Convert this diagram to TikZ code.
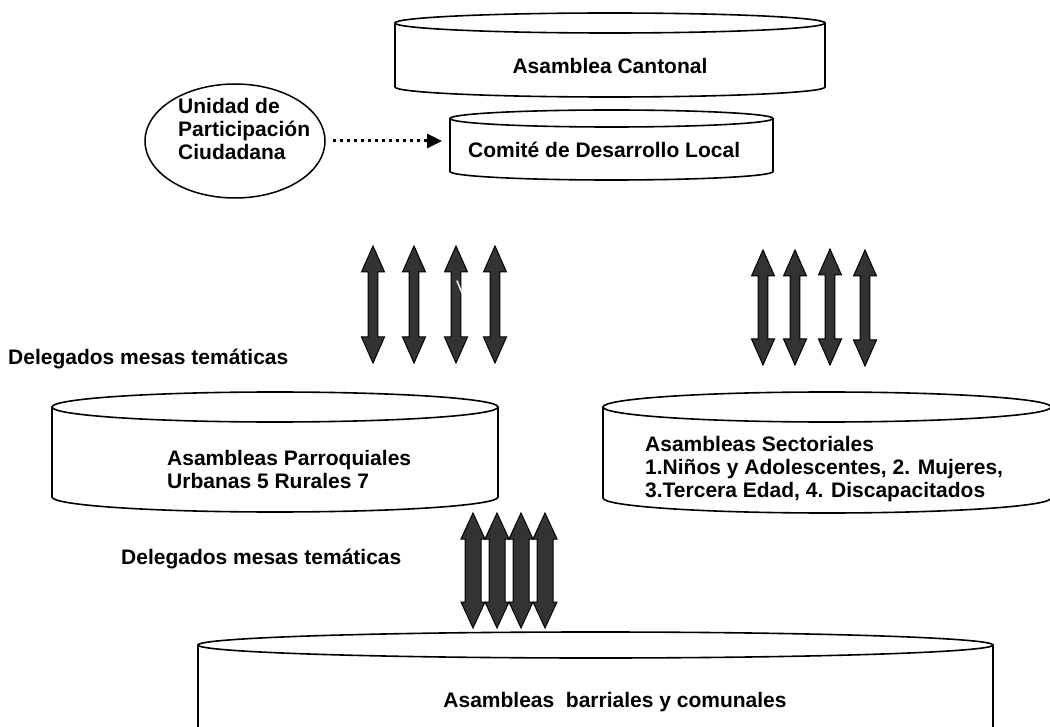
\documentclass[tikz,border=0pt]{standalone}
\usepackage{fontspec}
\setmainfont{Liberation Sans}
\usetikzlibrary{arrows.meta,shapes.geometric}
\definecolor{arrowfill}{HTML}{333333}
\tikzset{
  lbl/.style={font=\fontsize{21}{23}\selectfont\bfseries, inner sep=0pt, align=left},
  cylline/.style={line width=1.6pt},
  blockarrow/.style={fill=arrowfill, draw=black, line width=1pt, line join=miter},
  dotarrow/.style={line width=3pt, dash pattern=on 3.5pt off 3.5pt, -{Triangle[length=15pt,width=14pt]}},
}
% #1 left x, #2 x radius, #3 top ellipse centre y, #4 bottom ellipse centre y, #5 y radius
\newcommand\cylshape[5]{%
  \draw[cylline] (#1+#2,#3) ellipse [x radius=#2pt, y radius=#5pt];
  \draw[cylline] (#1,#3) -- (#1,#4) arc[start angle=180, end angle=360, x radius=#2pt, y radius=#5pt] -- (#1+2*#2,#3);
}
% #1 centre x, #2 top y, #3 bottom y, #4 half shaft, #5 half head
\newcommand\blockarr[5]{%
  \filldraw[blockarrow] (#1,#2) -- (#1+#5,#2+26) -- (#1+#4,#2+26) -- (#1+#4,#3-26) -- (#1+#5,#3-26)
    -- (#1,#3) -- (#1-#5,#3-26) -- (#1-#4,#3-26) -- (#1-#4,#2+26) -- (#1-#5,#2+26) -- cycle;
}
\begin{document}
\begin{tikzpicture}[x=1pt,y=-1pt]
\clip (0,0) rectangle (1050,727);
\fill[white] (0,0) rectangle (1050,727);

% cylinders
\cylshape{395}{215}{23}{87}{10}
\cylshape{450}{161.5}{118.5}{171.5}{8.5}
\cylshape{52}{223}{407}{497}{15}
\cylshape{603}{224}{407}{498}{15}
\cylshape{198}{397.5}{645}{800}{13}

\node[lbl, anchor=base] (cant) at (610,74) {Asamblea Cantonal};
\node[lbl, anchor=base west] (cdl) at (468,158) {Comité de Desarrollo Local};
\node[lbl, anchor=west] (parr) at (167,469) {Asambleas Parroquiales\\Urbanas 5 Rurales 7};
\node[lbl, anchor=west] (sect) at (645,469) {Asambleas Sectoriales\\1.Niños y Adolescentes, 2. Mujeres,\\3.Tercera Edad, 4. Discapacitados};
\node[lbl, anchor=base] (barr) at (615,707) {Asambleas~ barriales y comunales};

% unidad de participacion
\node[draw, ellipse, line width=1.5pt, minimum width=180pt, minimum height=114pt, inner sep=0pt] (upc) at (235,141) {};
\node[lbl, anchor=west] (upctext) at (178,129) {Unidad de\\Participación\\Ciudadana};
\coordinate (cdlin) at (450,141);
\draw[dotarrow, shorten <=7pt, shorten >=8pt] (upc.east) -- (cdlin);

% labels
\node[lbl, anchor=base west] (del1) at (8,365) {Delegados mesas temáticas};
\node[lbl, anchor=base west] (del2) at (121,564) {Delegados mesas temáticas};

% block arrows, left group
\blockarr{373}{246}{363}{4.8}{11.5}
\blockarr{414}{246}{363}{4.8}{11.5}
\blockarr{456}{246}{363}{4.8}{11.5}
\blockarr{495}{246}{363}{4.8}{11.5}
\node[font=\fontsize{18}{20}\selectfont, text=white, anchor=base west, inner sep=0pt] (vmark) at (456,294) {V};

% block arrows, right group
\blockarr{763}{250}{365}{4.8}{11.5}
\blockarr{795}{250}{365}{4.8}{11.5}
\blockarr{830}{249}{365}{4.8}{11.5}
\blockarr{865}{250}{366}{4.8}{11.5}

% block arrows, bottom group
\blockarr{473}{513}{628}{8}{12}
\blockarr{497}{513}{628}{8}{12}
\blockarr{521}{513}{628}{8}{12}
\blockarr{545}{513}{628}{8}{12}
\end{tikzpicture}
\end{document}
